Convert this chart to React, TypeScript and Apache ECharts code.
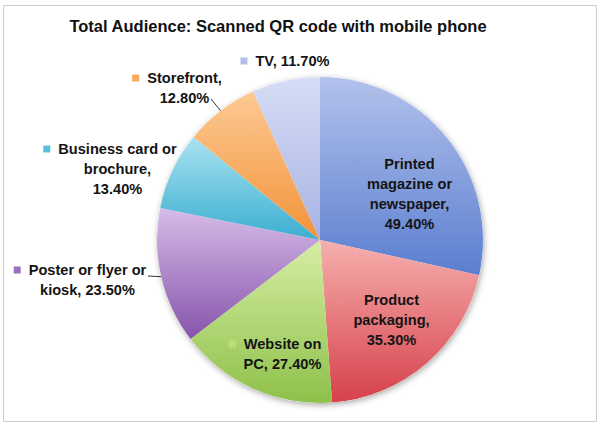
import React, { useEffect, useRef } from 'react';
import * as echarts from 'echarts';

const titleText = 'Total Audience: Scanned QR code with mobile phone';
const categories = [
  'Printed magazine or newspaper',
  'Product packaging',
  'Website on PC',
  'Poster or flyer or kiosk',
  'Business card or brochure',
  'Storefront',
  'TV',
];
const values = [49.4, 35.3, 27.4, 23.5, 13.4, 12.8, 11.7];
// words per line for each label "name, value%"
const labelWordsPerLine = [[1, 2, 1, 1], [1, 1, 1], [2, 2], [4, 2], [3, 1, 1], [1, 1], [2]];

// styles / layout
const gradTop = ['#b3c2ec', '#f6b0ae', '#d6eea4', '#d6bce8', '#a9e2f0', '#fdc994', '#d6ddf5'];
const gradBottom = ['#5a7ecf', '#d6404b', '#8ec04a', '#8654ab', '#3aaed0', '#f29338', '#a7b2e3'];
const keyColors = ['#8da2db', '#e8898c', '#bde07c', '#9a70c0', '#56c0dc', '#f8a95b', '#b4bfe8'];
const labelCenter = [[402, 194], [384, 320], [275, 354], [80, 280], [110, 169], [177, 88], [285, 61]];
const leaderEnd: (number[] | null)[] = [null, null, null, [148, 276], null, [211, 99], null];

const FONT = '"Liberation Sans", Arial, sans-serif';

function buildLabel(i: number): string {
  const full = `${categories[i]}, ${values[i].toFixed(2)}%`;
  const words = full.split(' ');
  const lines: string[] = [];
  let p = 0;
  for (const n of labelWordsPerLine[i]) {
    lines.push(words.slice(p, p + n).join(' '));
    p += n;
  }
  return lines
    .map((ln, j) => (j === 0 ? `{k${i}|}` : '{p|}') + '{s|}' + `{t|${ln}}`)
    .join('\n');
}

export default function App() {
  const ref = useRef<HTMLDivElement>(null);
  useEffect(() => {
    if (!ref.current) return;
    const chart = echarts.init(ref.current, undefined, { renderer: 'svg' });
    const cx = 320;
    const cy = 240;
    const R = 163;
    const total = values.reduce((a, b) => a + b, 0);

    const rich: any = {
      p: { width: 7, height: 7, align: 'left', lineHeight: 20 },
      s: { width: 8, height: 7, align: 'left', lineHeight: 20 },
      t: {
        align: 'center',
        fontSize: 14.6,
        fontWeight: 'bold',
        fontFamily: FONT,
        color: '#141414',
        lineHeight: 20,
      },
    };
    keyColors.forEach((c, i) => {
      rich['k' + i] = { width: 7, height: 7, backgroundColor: c, align: 'left', lineHeight: 20 };
    });

    const data = categories.map((name, i) => ({
      name,
      value: values[i],
      itemStyle: {
        color: new echarts.graphic.LinearGradient(0, 0, 0, 1, [
          { offset: 0, color: gradTop[i] },
          { offset: 1, color: gradBottom[i] },
        ]),
      },
      labelLine: { show: !!leaderEnd[i] },
    }));

    const option: any = {
      animation: false,
      backgroundColor: '#ffffff',
      title: {
        text: titleText,
        left: 273,
        textAlign: 'center',
        top: 12,
        textStyle: { fontSize: 16.5, fontWeight: 'bold', fontFamily: FONT, color: '#111111' },
      },
      graphic: [
        {
          type: 'rect',
          shape: { x: 3.5, y: 5.5, width: 593, height: 416 },
          style: { fill: 'none', stroke: '#cccccc', lineWidth: 1 },
          silent: true,
          z: -10,
        },
      ],
      series: [
        {
          type: 'pie',
          silent: true,
          center: [cx, cy],
          radius: R,
          z: 1,
          label: { show: false },
          labelLine: { show: false },
          itemStyle: {
            color: '#ffffff',
            shadowBlur: 6,
            shadowOffsetX: 1,
            shadowOffsetY: 2,
            shadowColor: 'rgba(0,0,0,0.35)',
          },
          data: [{ value: 1, name: '' }],
        },
        {
          type: 'pie',
          center: [cx, cy],
          radius: R,
          z: 2,
          startAngle: 90,
          clockwise: true,
          data,
          itemStyle: { borderWidth: 0 },
          label: {
            show: true,
            position: 'outside',
            bleedMargin: 0,
            formatter: (p: any) => buildLabel(p.dataIndex),
            rich,
            align: 'center',
            lineHeight: 20,
          },
          labelLine: {
            show: false,
            length: 0,
            length2: 0,
            lineStyle: { color: '#333333', width: 1 },
          },
          labelLayout: (params: any) => {
            const i = params.dataIndex;
            const res: any = {
              x: labelCenter[i][0],
              y: labelCenter[i][1],
              align: 'center',
              verticalAlign: 'middle',
            };
            if (leaderEnd[i]) {
              let before = 0;
              for (let j = 0; j < i; j++) before += values[j];
              const mid = ((before + values[i] / 2) / total) * Math.PI * 2;
              const ex = cx + R * Math.sin(mid);
              const ey = cy - R * Math.cos(mid);
              res.labelLinePoints = [
                [ex, ey],
                [leaderEnd[i]![0], leaderEnd[i]![1]],
                [leaderEnd[i]![0], leaderEnd[i]![1]],
              ];
            }
            return res;
          },
        },
      ],
    };
    chart.setOption(option);
    return () => chart.dispose();
  }, []);
  return (
    <div
      ref={ref}
      style={{ position: 'fixed', left: 0, top: 0, width: 600, height: 428, background: '#fff' }}
    />
  );
}
